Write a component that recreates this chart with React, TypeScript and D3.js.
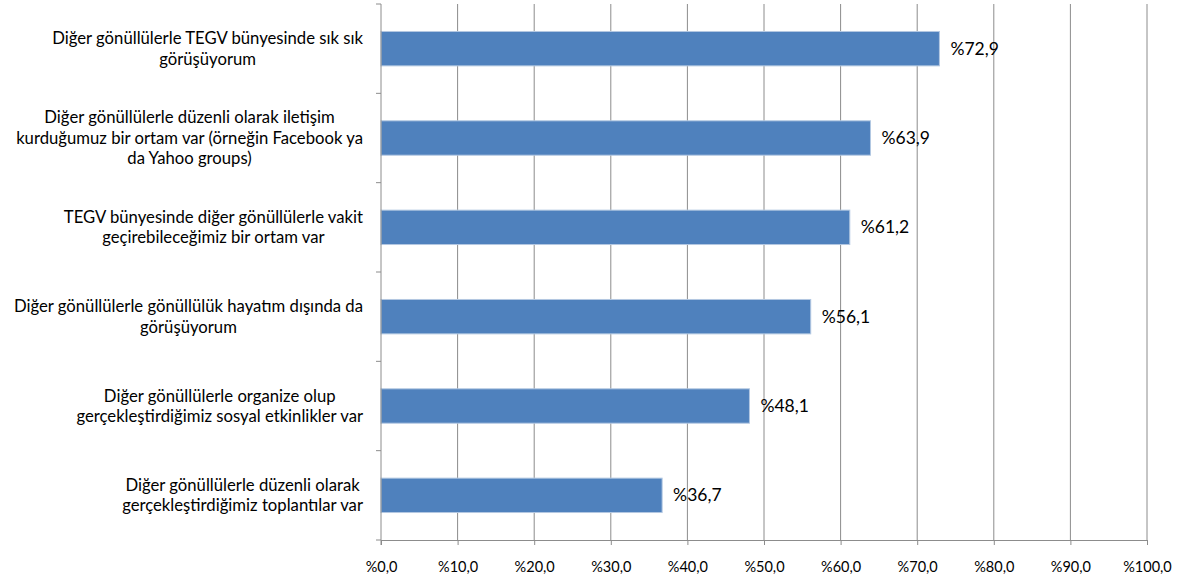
import React, { useEffect, useRef } from "react";
import * as d3 from "d3";

const categories: string[][] = [
  ["Diğer gönüllülerle TEGV bünyesinde sık sık", "görüşüyorum"],
  ["Diğer gönüllülerle düzenli olarak iletişim", "kurduğumuz bir ortam var (örneğin Facebook ya", "da Yahoo groups)"],
  ["TEGV bünyesinde diğer gönüllülerle vakit", "geçirebileceğimiz bir ortam var"],
  ["Diğer gönüllülerle gönüllülük hayatım dışında da", "görüşüyorum"],
  ["Diğer gönüllülerle organize olup", "gerçekleştirdiğimiz sosyal etkinlikler var"],
  ["Diğer gönüllülerle düzenli olarak", "gerçekleştirdiğimiz toplantılar var"],
];
const values: number[] = [72.9, 63.9, 61.2, 56.1, 48.1, 36.7];
const xTicks: number[] = [0, 10, 20, 30, 40, 50, 60, 70, 80, 90, 100];

const W = 1188;
const H = 583;
const M = { left: 381, right: 1147, top: 4, bottom: 540 };
const FONT = "Lato, 'Liberation Sans', sans-serif";
const fmt = (v: number) => "%" + v.toFixed(1).replace(".", ",");

export default function App() {
  const ref = useRef<SVGSVGElement>(null);

  useEffect(() => {
    const svg = d3.select(ref.current);
    svg.selectAll("*").remove();

    const x = d3.scaleLinear().domain([0, 100]).range([M.left, M.right]);
    const ids = categories.map((_, i) => String(i));
    const y = d3.scaleBand<string>().domain(ids).range([M.top, M.bottom]).paddingInner(0.615).paddingOuter(0.3075);
    const yOuter = d3.scaleBand<string>().domain(ids).range([M.top, M.bottom]);

    // gridlines
    svg.append("g")
      .selectAll("line")
      .data(xTicks.slice(1))
      .join("line")
      .attr("x1", (d) => x(d))
      .attr("x2", (d) => x(d))
      .attr("y1", M.top)
      .attr("y2", M.bottom)
      .attr("stroke", "#8c8c8c")
      .attr("stroke-width", 1);

    // bars
    svg.append("g")
      .selectAll("rect")
      .data(values)
      .join("rect")
      .attr("x", x(0))
      .attr("y", (_, i) => y(String(i))!)
      .attr("width", (d) => x(d) - x(0))
      .attr("height", y.bandwidth())
      .attr("fill", "#4F81BD")
      .attr("stroke", "#B3C8E2")
      .attr("stroke-width", 1);

    // value labels
    svg.append("g")
      .selectAll("text")
      .data(values)
      .join("text")
      .attr("x", (d) => x(d) + 11)
      .attr("y", (_, i) => y(String(i))! + y.bandwidth() / 2)
      .attr("dy", "0.35em")
      .attr("font-family", FONT)
      .attr("font-size", 17.5)
      .attr("fill", "#000")
      .text((d) => fmt(d));

    // x axis
    const xAxis = d3.axisBottom(x).tickValues(xTicks).tickSize(5).tickPadding(17).tickFormat((d) => fmt(d as number));
    const gx = svg.append("g").attr("transform", `translate(0,${M.bottom})`).call(xAxis);
    gx.select(".domain").attr("stroke", "#8c8c8c");
    gx.selectAll(".tick line").attr("stroke", "#8c8c8c");
    gx.selectAll("text").attr("font-family", FONT).attr("font-size", 14.5).attr("fill", "#000");

    // y axis line and ticks at category boundaries
    const boundaries = ids.map((id) => yOuter(id)!).concat([M.bottom]);
    svg.append("line")
      .attr("x1", M.left).attr("x2", M.left)
      .attr("y1", M.top).attr("y2", M.bottom + 5)
      .attr("stroke", "#8c8c8c");
    svg.append("g")
      .selectAll("line")
      .data(boundaries)
      .join("line")
      .attr("x1", M.left - 5)
      .attr("x2", M.left)
      .attr("y1", (d) => d)
      .attr("y2", (d) => d)
      .attr("stroke", "#8c8c8c");

    // category labels
    const lineH = 20.5;
    const labelRight = 363;
    categories.forEach((lines, i) => {
      const cy = yOuter(String(i))! + yOuter.bandwidth() / 2;
      const g = svg.append("g");
      const texts = g.selectAll("text")
        .data(lines)
        .join("text")
        .attr("font-family", FONT)
        .attr("font-size", 16.7)
        .attr("fill", "#000")
        .attr("text-anchor", "middle")
        .attr("y", (_, j) => cy + (j - (lines.length - 1) / 2) * lineH)
        .attr("dy", "0.35em")
        .text((d) => d);
      let maxW = 0;
      texts.each(function () {
        maxW = Math.max(maxW, (this as SVGTextElement).getComputedTextLength());
      });
      texts.attr("x", labelRight - maxW / 2);
    });
  }, []);

  return (
    <svg
      ref={ref}
      width={W}
      height={H}
      style={{ position: "absolute", left: 0, top: 0, background: "#fff" }}
    />
  );
}
